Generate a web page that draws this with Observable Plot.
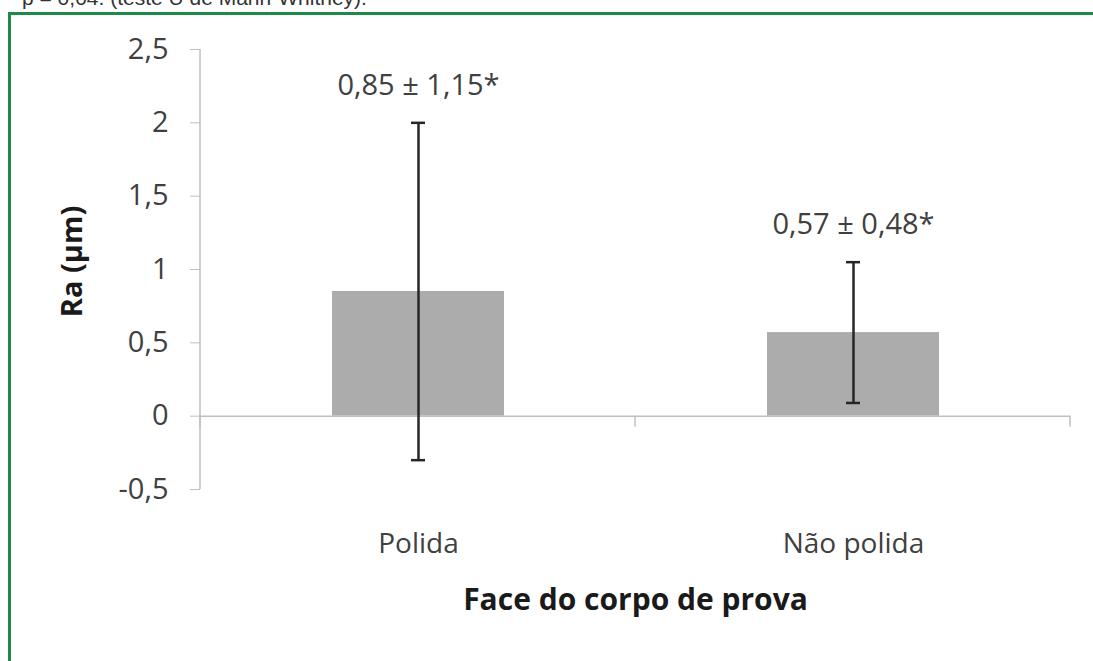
<!DOCTYPE html>
<html>
<head>
<meta charset="utf-8">
<script src="https://cdn.jsdelivr.net/npm/d3@7"></script>
<script src="https://cdn.jsdelivr.net/npm/@observablehq/plot@0.6"></script>
<style>
  body { margin: 0; background: #fff; width: 1093px; height: 661px; overflow: hidden; position: relative; font-family: "Open Sans", sans-serif; }
  #note { position: absolute; left: 22px; top: -13px; font-family: "Liberation Sans", sans-serif; font-size: 21px; line-height: 21px; color: #333; white-space: nowrap; }
  #border { position: absolute; left: 8px; top: 12px; width: 1200px; height: 800px; border: 3px solid #1d8a48; box-sizing: border-box; }
  #chart { position: absolute; left: 0; top: 0; }
</style>
</head>
<body>
<div id="note">p = 0,04. (teste U de Mann-Whitney).</div>
<div id="border"></div>
<div id="chart"></div>
<script>
// Surface roughness (Ra) by specimen face: mean ± standard deviation
const faces = ["Polida", "Não polida"];
const means = [0.85, 0.57];
const sds = [1.15, 0.48];
const valueLabels = ["0,85 ± 1,15*", "0,57 ± 0,48*"];
const yTicks = [-0.5, 0, 0.5, 1, 1.5, 2, 2.5];
const yTitle = "Ra (μm)";
const xTitle = "Face do corpo de prova";

const rows = faces.map((face, i) => ({face, mean: means[i], sd: sds[i], label: valueLabels[i]}));
const comma = d => String(d).replace(".", ",");

const axisGray = "#bfbfbf";
const textGray = "#404040";

const chart = Plot.plot({
  width: 1093,
  height: 661,
  marginLeft: 200,
  marginRight: 23,
  marginTop: 49,
  marginBottom: 172,
  style: {fontFamily: "Open Sans, sans-serif", background: "transparent"},
  x: {domain: faces, paddingInner: 0.605, paddingOuter: 0.3025},
  y: {domain: [-0.5, 2.5]},
  marks: [
    Plot.axisY(yTicks, {tickSize: 10, tickPadding: 22, tickFormat: comma, fontSize: 29, stroke: axisGray, fill: textGray, label: null}),
    Plot.axisX({tickSize: 0, tickPadding: 44, fontSize: 28, fill: textGray, label: null}),
    Plot.barY(rows, {x: "face", y: "mean", fill: "#acacac"}),
    Plot.ruleY([0], {stroke: axisGray, strokeWidth: 1.5}),
    Plot.ruleX(rows, {x: "face", y1: d => d.mean - d.sd, y2: d => d.mean + d.sd, stroke: "#262626", strokeWidth: 2.5}),
    Plot.tickY(rows, {x: "face", y: d => d.mean - d.sd, stroke: "#262626", strokeWidth: 2.5, insetLeft: 79, insetRight: 79}),
    Plot.tickY(rows, {x: "face", y: d => d.mean + d.sd, stroke: "#262626", strokeWidth: 2.5, insetLeft: 79, insetRight: 79}),
    Plot.text(rows, {x: "face", y: d => d.mean + d.sd, text: "label", dy: -37, fontSize: 29, fill: textGray}),
    Plot.text([yTitle], {text: d => d, frameAnchor: "left", textAnchor: "middle", rotate: -90, dx: -128, dy: -8, fontSize: 29, fontWeight: "bold", fill: "#1a1a1a"}),
    Plot.text([xTitle], {text: d => d, frameAnchor: "bottom", dy: 120, fontSize: 30, fontWeight: "bold", fill: "#1a1a1a"})
  ]
});

// Value axis line and category boundary ticks, placed with the chart's own scales
const xs = chart.scale("x");
const ys = chart.scale("y");
const svg = d3.select(chart);
const g = svg.append("g").attr("stroke", axisGray).attr("stroke-width", 1.5);
const x0 = xs.range[0];
g.append("line")
  .attr("x1", x0).attr("x2", x0)
  .attr("y1", ys.apply(ys.domain[1])).attr("y2", ys.apply(ys.domain[0]));
d3.range(faces.length + 1).forEach(i => {
  const x = x0 + i * xs.step;
  g.append("line").attr("x1", x).attr("x2", x).attr("y1", ys.apply(0)).attr("y2", ys.apply(0) + 11);
});

document.getElementById("chart").append(chart);
</script>
</body>
</html>
